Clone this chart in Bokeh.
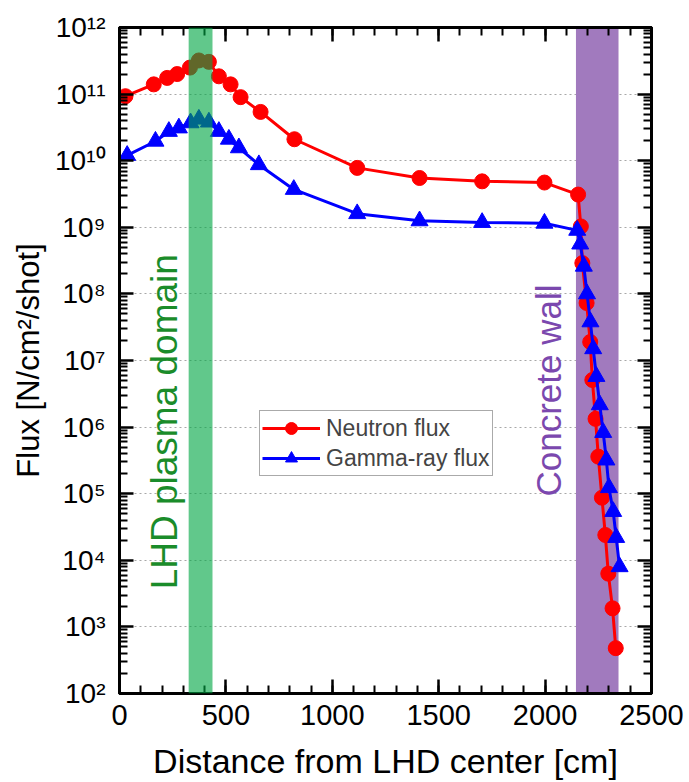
import math
from bokeh.plotting import figure
from bokeh.models import (Range1d, LogAxis, LinearAxis, BoxAnnotation, Legend, LegendItem,
                          Label, FixedTicker, SingleIntervalTicker, CustomJSTickFormatter)
from bokeh.embed import file_html
from bokeh.resources import INLINE

# ---------------- data ----------------
neutron_x = [28, 161, 224, 271, 331, 373, 420, 467, 522, 569, 663, 822,
             1117, 1410, 1704, 1997,
             2155, 2168, 2175, 2195, 2212, 2222, 2237, 2250, 2267, 2283, 2297, 2317, 2332]
neutron_y = [9.3e10, 1.4e11, 1.75e11, 2.0e11, 2.5e11, 3.2e11, 3.05e11, 1.85e11, 1.4e11, 9.0e10, 5.4e10, 2.1e10,
             7.8e9, 5.5e9, 4.9e9, 4.7e9,
             3.1e9, 1.03e9, 2.9e8, 7.3e7, 1.9e7, 5.1e6, 1.33e6, 3.6e5, 8.7e4, 2.4e4, 6.3e3, 1.9e3, 480]

gamma_x = [36, 169, 232, 279, 334, 373, 420, 467, 514, 561, 655, 819,
           1117, 1410, 1704, 1997,
           2151, 2165, 2182, 2197, 2213, 2226, 2241, 2257, 2273, 2288, 2300, 2320, 2334, 2350]
gamma_y = [1.2e10, 1.96e10, 2.75e10, 3.1e10, 3.7e10, 4.2e10, 3.8e10, 2.75e10, 2.1e10, 1.56e10, 8.7e9, 3.7e9,
           1.6e9, 1.25e9, 1.18e9, 1.15e9,
           9.0e8, 5.6e8, 2.6e8, 1.0e8, 3.8e7, 1.5e7, 5.75e6, 2.16e6, 8.3e5, 3.2e5, 1.23e5, 5.4e4, 2.2e4, 8e3]

plasma_band = [325, 437]     # LHD plasma domain [cm]
wall_band = [2145, 2345]     # concrete wall [cm]

y_exponents = [2, 3, 4, 5, 6, 7, 8, 9, 10, 11, 12]
y_tick_labels = ["10²", "10³", "10⁴", "10⁵", "10⁶", "10⁷", "10⁸", "10⁹", "10¹⁰", "10¹¹", "10¹²"]

x_label = "Distance from LHD center [cm]"
y_label = "Flux [N/cm²/shot]"
series_names = ["Neutron flux", "Gamma-ray flux"]

FONT = "Liberation Sans"

# ---------------- figure ----------------
p = figure(width=689, height=782, y_axis_type="log",
           x_range=Range1d(0, 2500), y_range=Range1d(1e2, 1e12),
           output_backend="svg", toolbar_location=None,
           min_border_left=119, min_border_right=38, min_border_top=27, min_border_bottom=87,
           background_fill_color="white", border_fill_color="white")

major_y = [10 ** k for k in y_exponents]
minor_y = [m * 10 ** k for k in y_exponents[:-1] for m in range(2, 10)]
y_ticker = FixedTicker(ticks=major_y, minor_ticks=minor_y)
x_ticker = SingleIntervalTicker(interval=500, num_minor_ticks=5)

p.outline_line_color = "black"
p.outline_line_width = 3

def style_axis(ax):
    ax.axis_line_color = "black"
    ax.axis_line_width = 3
    ax.major_tick_in = 14
    ax.major_tick_out = 0
    ax.minor_tick_in = 8
    ax.minor_tick_out = 0
    ax.major_tick_line_width = 2.5
    ax.minor_tick_line_width = 2
    ax.major_tick_line_color = "black"
    ax.minor_tick_line_color = "black"
    ax.major_label_text_font = FONT
    ax.major_label_text_font_size = "28px"
    ax.major_label_text_color = "black"
    ax.axis_label_text_font = FONT
    ax.axis_label_text_font_size = "31px"
    ax.axis_label_text_font_style = "normal"
    ax.axis_label_text_color = "black"

xa = p.xaxis[0]
xa.ticker = x_ticker
style_axis(xa)
xa.axis_label = x_label
xa.major_label_text_font_size = "29px"
xa.axis_label_text_font_size = "34px"
xa.major_label_standoff = 11
xa.axis_label_standoff = 14

ya = p.yaxis[0]
ya.ticker = y_ticker
style_axis(ya)
ya.axis_label = y_label
ya.major_label_overrides = {10 ** k: lab for k, lab in zip(y_exponents, y_tick_labels)}
ya.major_label_standoff = 14
ya.axis_label_standoff = 6

blank = CustomJSTickFormatter(code="return ''")
top = LinearAxis(ticker=x_ticker, formatter=blank)
style_axis(top)
top.major_label_text_font_size = "1px"
p.add_layout(top, "above")
right = LogAxis(ticker=y_ticker, formatter=blank)
style_axis(right)
right.major_label_text_font_size = "1px"
p.add_layout(right, "right")

p.xgrid.grid_line_color = None
p.ygrid.grid_line_color = "#a8a8a8"
p.ygrid.grid_line_dash = "2 3"
p.ygrid.grid_line_width = 1.2
p.ygrid.ticker = FixedTicker(ticks=major_y)

# concrete wall band (beneath the data)
p.add_layout(BoxAnnotation(left=wall_band[0], right=wall_band[1],
                           fill_color="#a17abe", fill_alpha=1.0, line_color=None, level="underlay"))

# series
ln = p.line(neutron_x, neutron_y, line_color="#ff0000", line_width=3)
sn = p.scatter(neutron_x, neutron_y, marker="circle", size=15, fill_color="#ff0000", line_color="#ff0000")
lg = p.line(gamma_x, gamma_y, line_color="#0000ff", line_width=3)
sg = p.scatter(gamma_x, gamma_y, marker="triangle", size=17, fill_color="#0000ff", line_color="#0000ff")

# plasma band (semi-transparent, over the data)
p.add_layout(BoxAnnotation(left=plasma_band[0], right=plasma_band[1],
                           fill_color="#00a744", fill_alpha=0.62, line_color=None, level="overlay"))

# texts
p.add_layout(Label(x=210, y=10 ** 6.08, text="LHD plasma domain", angle=math.pi / 2,
                   text_align="center", text_baseline="middle", text_color="#1a8c2a",
                   text_font=FONT, text_font_size="37px"))
p.add_layout(Label(x=2016, y=10 ** 6.55, text="Concrete wall", angle=math.pi / 2,
                   text_align="center", text_baseline="middle", text_color="#7b48ae",
                   text_font=FONT, text_font_size="35px"))

legend = Legend(items=[LegendItem(label=series_names[0], renderers=[ln, sn]),
                       LegendItem(label=series_names[1], renderers=[lg, sg])],
                location=(140, 217))
legend.label_text_font = FONT
legend.label_text_font_size = "23px"
legend.glyph_width = 58
legend.glyph_height = 30
legend.label_height = 30
legend.spacing = 0
legend.padding = 2
legend.margin = 0
legend.label_standoff = 6
legend.border_line_color = "#555555"
legend.border_line_width = 1.5
legend.background_fill_alpha = 1.0
p.add_layout(legend)

open("out.html", "w").write(file_html(p, INLINE))
